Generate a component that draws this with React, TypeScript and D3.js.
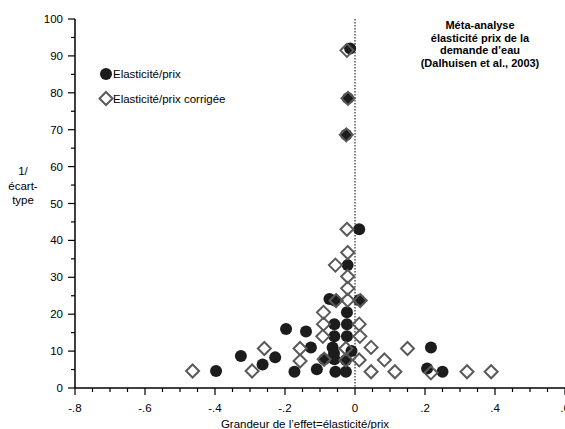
import React from "react";
import * as d3 from "d3";

const elasticite: [number, number][] = [
  [-0.014, 92], [-0.02, 78.5], [-0.025, 68.6], [0.012, 43], [-0.021, 33.3],
  [-0.073, 24.1], [-0.058, 23.7], [0.012, 23.8], [-0.023, 20.5],
  [-0.059, 17.3], [-0.023, 17.3], [-0.197, 16], [-0.14, 15.3],
  [-0.059, 14], [-0.023, 14], [-0.126, 11], [-0.064, 11], [-0.01, 10],
  [-0.06, 9.4], [-0.088, 7.8], [-0.059, 7.8], [-0.026, 7.6],
  [-0.173, 4.4], [-0.109, 5.1], [-0.056, 4.4], [-0.026, 4.4],
  [-0.397, 4.6], [-0.326, 8.7], [-0.264, 6.4], [-0.228, 8.3],
  [0.217, 11], [0.206, 5.3], [0.25, 4.4],
];

const corrigee: [number, number][] = [
  [-0.023, 91.5], [-0.02, 78.5], [-0.025, 68.6], [-0.023, 43], [-0.021, 36.7],
  [-0.056, 33.3], [-0.021, 30.2], [-0.021, 27], [-0.021, 23.8],
  [-0.054, 23.7], [0.015, 23.7], [-0.09, 20.5], [-0.09, 17.3], [0.012, 17.3],
  [-0.092, 14], [0.014, 14], [-0.157, 10.7], [-0.157, 7.3],
  [-0.088, 7.8], [-0.026, 7.6], [0.012, 7.6], [-0.026, 10.7],
  [0.046, 11], [0.046, 4.4], [0.084, 7.6],
  [-0.464, 4.6], [-0.294, 4.6], [-0.259, 10.7],
  [0.15, 10.7], [0.114, 4.4], [0.217, 4.1], [0.32, 4.4], [0.389, 4.4],
];

const xMajor = [-0.8, -0.6, -0.4, -0.2, 0, 0.2, 0.4, 0.6];
const yMajor = [0, 10, 20, 30, 40, 50, 60, 70, 80, 90, 100];
const titleLines = ["Méta-analyse", "élasticité prix de la", "demande d’eau", "(Dalhuisen et al., 2003)"];
const yLabelLines = ["1/", "écart-", "type"];
const legendLabels = ["Elasticité/prix", "Elasticité/prix corrigée"];
const xTitle = "Grandeur de l’effet=élasticité/prix";

const W = 565, H = 429;
const font = "'Liberation Sans', Arial, Helvetica, sans-serif";

export default function App() {
  const x = d3.scaleLinear().domain([-0.8, 0.6]).range([75, 565]);
  const y = d3.scaleLinear().domain([0, 100]).range([388, 19]);
  const xMinor = d3.range(-0.8, 0.6001, 0.05);
  const yMinor = d3.range(0, 100.001, 5);
  const fmt = (d: number) =>
    Math.abs(d) < 1e-9 ? "0" : d3.format(".1f")(d).replace("\u2212", "-").replace("0.", ".");
  const diamond = (cx: number, cy: number, r: number) =>
    `M${cx},${cy - r}L${cx + r},${cy}L${cx},${cy + r}L${cx - r},${cy}Z`;
  const dark = "#1c1c1c";
  const grey = "#5a5a5a";

  return (
    <svg width={W} height={H} style={{ position: "absolute", left: 0, top: 0, background: "#fff" }} fontFamily={font}>
      <line x1={x(0)} x2={x(0)} y1={y(100)} y2={y(0)} stroke="#000" strokeWidth={1} strokeDasharray="1.5,1.5" />
      <line x1={x(-0.8)} x2={x(-0.8)} y1={y(100)} y2={y(0)} stroke="#000" strokeWidth={1.5} />
      <line x1={x(-0.8)} x2={x(0.6)} y1={y(0)} y2={y(0)} stroke="#000" strokeWidth={1.5} />
      {yMinor.map((v, i) => (
        <line key={"ym" + i} x1={x(-0.8) - (i % 2 === 0 ? 7 : 4)} x2={x(-0.8)} y1={y(v)} y2={y(v)} stroke="#000" strokeWidth={1.2} />
      ))}
      {xMinor.map((v, i) => (
        <line key={"xm" + i} x1={x(v)} x2={x(v)} y1={y(0)} y2={y(0) + (i % 4 === 0 ? 7 : 4)} stroke="#000" strokeWidth={1.2} />
      ))}
      {yMajor.map((v) => (
        <text key={"yl" + v} x={63} y={y(v) + 4} textAnchor="end" fontSize={11.5} fill="#000">{v}</text>
      ))}
      {xMajor.map((v) => (
        <text key={"xl" + v} x={x(v)} y={412} textAnchor="middle" fontSize={11.5} fill="#000">{fmt(v)}</text>
      ))}
      <text x={305} y={428} textAnchor="middle" fontSize={11.5} fill="#000">{xTitle}</text>
      {yLabelLines.map((t, i) => (
        <text key={t} x={23} y={175 + i * 14.5} textAnchor="middle" fontSize={11.5} fill="#000">{t}</text>
      ))}
      {titleLines.map((t, i) => (
        <text key={t} x={480} y={29 + i * 12.5} textAnchor="middle" fontSize={11} fontWeight="bold" fill="#000">{t}</text>
      ))}
      {elasticite.map((d, i) => (
        <circle key={"c" + i} cx={x(d[0])} cy={y(d[1])} r={6} fill={dark} />
      ))}
      {corrigee.map((d, i) => (
        <path key={"d" + i} d={diamond(x(d[0]), y(d[1]), 6.5)} fill="none" stroke={grey} strokeWidth={2} />
      ))}
      <circle cx={106} cy={74} r={6} fill={dark} />
      <text x={113} y={78} fontSize={11.5} fill="#000">{legendLabels[0]}</text>
      <path d={diamond(106, 98.5, 6.5)} fill="none" stroke={grey} strokeWidth={2} />
      <text x={113} y={103} fontSize={11.5} fill="#000">{legendLabels[1]}</text>
    </svg>
  );
}
